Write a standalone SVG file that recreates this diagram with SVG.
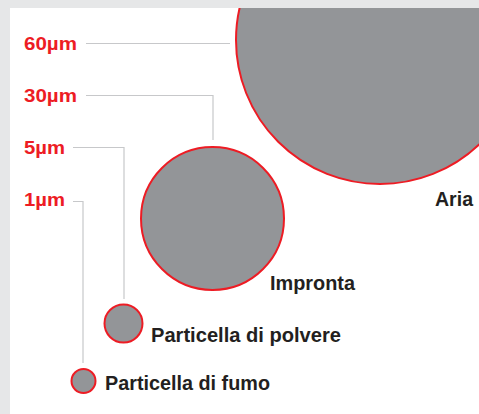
<svg xmlns="http://www.w3.org/2000/svg" width="479" height="414" viewBox="0 0 479 414">
<defs>
<style>
.bg{fill:#e6e7e8}
.panel{fill:#ffffff}
.p{fill:#939598;stroke:#ed1c24;stroke-width:2}
.ld{fill:none;stroke:#c7c8ca;stroke-width:1.2}
.r{font-family:"Liberation Sans",Arial,sans-serif;font-weight:bold;font-size:19px;fill:#ed1c24}
.k{font-family:"Liberation Sans",Arial,sans-serif;font-weight:bold;font-size:20px;fill:#231f20}
</style>
<clipPath id="pc"><rect x="10" y="8" width="469" height="406"/></clipPath>
</defs>
<rect class="bg" x="0" y="0" width="479" height="414"/>
<rect class="panel" x="10" y="8" width="469" height="406"/>
<g id="connectors">
<path class="ld" d="M86 43.5H230"/>
<path class="ld" d="M86 95.5H213V140"/>
<path class="ld" d="M73 147.5H124V299"/>
<path class="ld" d="M73 201.5H83V363"/>
</g>
<g id="aria" clip-path="url(#pc)">
<circle class="p" cx="380" cy="40" r="144"/>
</g>
<g id="aria-label"><text class="k" x="435" y="206" textLength="38" lengthAdjust="spacingAndGlyphs">Aria</text></g>
<g id="impronta">
<circle class="p" cx="212.5" cy="218.5" r="71.5"/>
<text class="k" x="270" y="290" textLength="85" lengthAdjust="spacingAndGlyphs">Impronta</text>
</g>
<g id="polvere">
<circle class="p" cx="123.5" cy="323.5" r="19"/>
<text class="k" x="151" y="342" textLength="190" lengthAdjust="spacingAndGlyphs">Particella di polvere</text>
</g>
<g id="fumo">
<circle class="p" cx="83.5" cy="381" r="12"/>
<text class="k" x="105" y="390" textLength="165" lengthAdjust="spacingAndGlyphs">Particella di fumo</text>
</g>
<g id="labels">
<text class="r" x="24" y="49.5" textLength="53" lengthAdjust="spacingAndGlyphs">60µm</text>
<text class="r" x="24" y="101.5" textLength="53" lengthAdjust="spacingAndGlyphs">30µm</text>
<text class="r" x="24" y="153.5" textLength="41" lengthAdjust="spacingAndGlyphs">5µm</text>
<text class="r" x="24" y="205.5" textLength="41" lengthAdjust="spacingAndGlyphs">1µm</text>
</g>
</svg>
